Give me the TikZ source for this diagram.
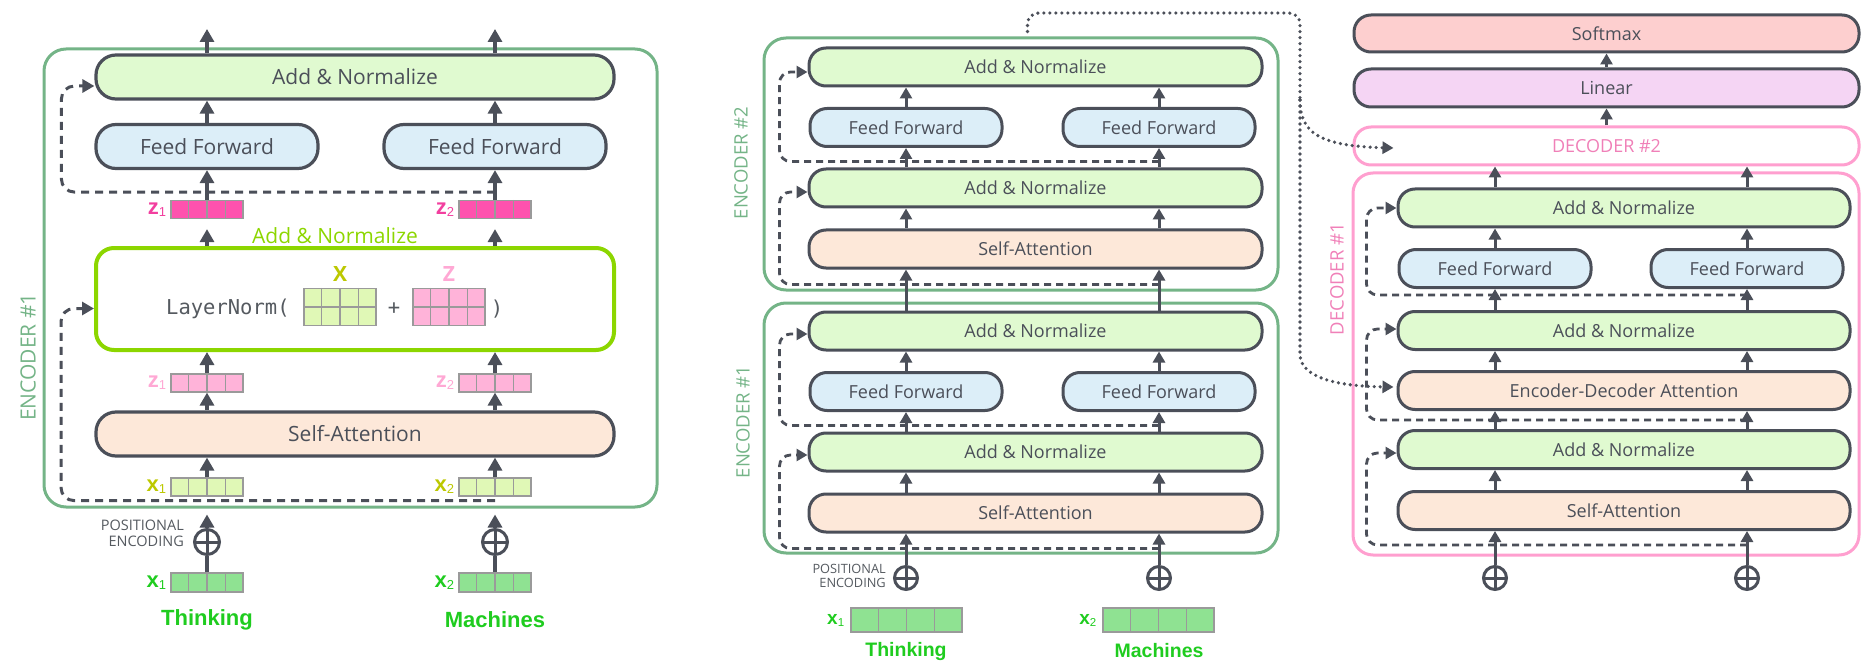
\documentclass[tikz,border=0pt]{standalone}
\usepackage{fontspec}
\setmainfont{Open Sans}
\newfontfamily\lnmono{DejaVu Sans Mono}
\newfontfamily\arialfont{Liberation Sans}
\usetikzlibrary{arrows.meta,calc}

\definecolor{dark}{HTML}{4B4F59}
\definecolor{angreen}{HTML}{E0FAD0}
\definecolor{ffblue}{HTML}{DCEEF8}
\definecolor{sapeach}{HTML}{FDE8D9}
\definecolor{softred}{HTML}{FDCFCF}
\definecolor{linpurple}{HTML}{F5D5F4}
\definecolor{encgreen}{HTML}{74B487}
\definecolor{decpink}{HTML}{FF9FCF}
\definecolor{decpinktext}{HTML}{F080B8}
\definecolor{lngreen}{HTML}{8CD600}
\definecolor{zdark}{HTML}{FF52AE}
\definecolor{zdarktext}{HTML}{F23F9F}
\definecolor{zlight}{HTML}{FFB3D9}
\definecolor{zlighttext}{HTML}{FFA8D4}
\definecolor{xlight}{HTML}{E0F8B6}
\definecolor{xlighttext}{HTML}{BCC800}
\definecolor{xgreen}{HTML}{8FE292}
\definecolor{wordgreen}{HTML}{1FCC1F}
\definecolor{cellgray}{HTML}{9A9A9A}
\definecolor{monogray}{HTML}{555A60}

\newcommand\fsBig{\fontsize{21}{24}\selectfont}
\newcommand\fsMid{\fontsize{18}{21}\selectfont}
\newcommand\vlabL[2]{{\arialfont\bfseries\fontsize{22}{22}\selectfont #1}{\arialfont\fontsize{13}{13}\selectfont\raisebox{-2pt}{#2}}}
\newcommand\vlabM[2]{{\arialfont\bfseries\fontsize{19}{19}\selectfont #1}{\arialfont\fontsize{11.5}{11.5}\selectfont\raisebox{-2pt}{#2}}}

% a row of four vector cells: name, x, y, total width, total height, fill
\newcommand\cellstrip[6]{%
  \node[cellnode, fill=#6, minimum width=#4pt, minimum height=#5pt] (#1) at (#2,#3) {};
  \foreach \k in {1,2,3}
    \draw[cellline] ($(#1.north west)!\k/4!(#1.north east)$) -- ($(#1.south west)!\k/4!(#1.south east)$);
}

\begin{document}
\begin{tikzpicture}[x=1pt,y=-1pt,
  blkL/.style={draw=dark, line width=3.2pt, rounded corners=20pt, minimum height=44pt,
    inner sep=0pt, text=dark, font=\fsBig},
  blkM/.style={draw=dark, line width=3pt, rounded corners=17pt, minimum height=38pt,
    inner sep=0pt, text=dark, font=\fsMid},
  encbox/.style={draw=encgreen, line width=3pt, rounded corners=22pt, inner sep=0pt},
  decbox/.style={draw=decpink, line width=3pt, rounded corners=20pt, inner sep=0pt},
  enclabel/.style={rotate=90, text=encgreen, inner sep=0pt},
  lnbox/.style={draw=lngreen, line width=4pt, rounded corners=18pt, fill=white,
    minimum width=518pt, minimum height=102pt, inner sep=0pt},
  cellnode/.style={draw=cellgray, line width=1.2pt, inner sep=0pt},
  cellline/.style={draw=cellgray, line width=1.2pt},
  arrL/.style={draw=dark, line width=3.2pt, -{Triangle[length=13pt,width=14pt]}},
  arrM/.style={draw=dark, line width=3pt, -{Triangle[length=11pt,width=12pt]}},
  plainL/.style={draw=dark, line width=3.2pt},
  residL/.style={draw=dark, line width=3pt, dash pattern=on 8pt off 6pt, rounded corners=13pt,
    -{Triangle[length=12pt,width=13pt]}},
  residM/.style={draw=dark, line width=2.8pt, dash pattern=on 7pt off 5pt, rounded corners=11pt,
    -{Triangle[length=11pt,width=12pt]}},
  dotline/.style={draw=dark, line width=3.6pt, dash pattern=on 0pt off 6pt, line cap=round,
    rounded corners=11pt},
  oplusL/.style={circle, draw=dark, line width=3pt, minimum size=25pt, inner sep=0pt,
    path picture={\draw[dark, line width=3pt]
      (path picture bounding box.north) -- (path picture bounding box.south)
      (path picture bounding box.west) -- (path picture bounding box.east);}},
  oplusM/.style={oplusL, minimum size=23pt},
  posenc/.style={align=right, anchor=east, text=monogray, inner sep=0pt},
  word/.style={text=wordgreen, inner sep=0pt},
]
\useasboundingbox (0,0) rectangle (1863,663);

% ================= left: one encoder layer in detail =================
\node[encbox, minimum width=613pt, minimum height=458pt] (encL) at (350.5,278) {};
\node[enclabel, font=\fsBig] (encLlab) at (28,357) {ENCODER \#1};

\node[blkL, fill=angreen, minimum width=518pt] (anL) at (355,77) {Add \& Normalize};
\node[blkL, fill=ffblue, minimum width=222pt] (ffL1) at (207,146.5) {Feed Forward};
\node[blkL, fill=ffblue, minimum width=222pt] (ffL2) at (495,146.5) {Feed Forward};

\cellstrip{zdL1}{207}{209.5}{72}{18}{zdark}
\cellstrip{zdL2}{495}{209.5}{72}{18}{zdark}
\node[anchor=east, text=zdarktext, inner sep=0pt] (zdL1lab) at ($(zdL1.west)+(-4,0)$) {\vlabL{z}{1}};
\node[anchor=east, text=zdarktext, inner sep=0pt] (zdL2lab) at ($(zdL2.west)+(-4,0)$) {\vlabL{z}{2}};

\node[lnbox] (lnL) at (355,299) {};
\node[font=\fsBig, text=lngreen, inner sep=0pt] (lnLlab) at (335,236) {Add \& Normalize};
\node[anchor=west, inner sep=0pt, text=monogray, font={\lnmono\fontsize{20.5}{22}\selectfont}] (lnfun) at (166,309) {LayerNorm(};
\node[cellnode, fill=xlight, minimum width=72pt, minimum height=37pt] (Xmat) at (340,307) {};
\foreach \k in {1,2,3}
  \draw[cellline] ($(Xmat.north west)!\k/4!(Xmat.north east)$) -- ($(Xmat.south west)!\k/4!(Xmat.south east)$);
\draw[cellline] (Xmat.west) -- (Xmat.east);
\node[cellnode, fill=zlight, minimum width=72pt, minimum height=37pt] (Zmat) at (449,307) {};
\foreach \k in {1,2,3}
  \draw[cellline] ($(Zmat.north west)!\k/4!(Zmat.north east)$) -- ($(Zmat.south west)!\k/4!(Zmat.south east)$);
\draw[cellline] (Zmat.west) -- (Zmat.east);
\node[text=xlighttext, font={\fsBig\bfseries}, inner sep=0pt] (Xlab) at (340,274) {X};
\node[text=zlighttext, font={\fsBig\bfseries}, inner sep=0pt] (Zlab) at (449,274) {Z};
\node[text=monogray, font={\lnmono\fontsize{20.5}{22}\selectfont}, inner sep=0pt] (plusop) at (394,309) {+};
\node[text=monogray, font={\lnmono\fontsize{20.5}{22}\selectfont}, inner sep=0pt] (closep) at (497,309) {)};

\cellstrip{zlL1}{207}{383}{72}{18}{zlight}
\cellstrip{zlL2}{495}{383}{72}{18}{zlight}
\node[anchor=east, text=zlighttext, inner sep=0pt] (zlL1lab) at ($(zlL1.west)+(-4,0)$) {\vlabL{z}{1}};
\node[anchor=east, text=zlighttext, inner sep=0pt] (zlL2lab) at ($(zlL2.west)+(-4,0)$) {\vlabL{z}{2}};

\node[blkL, fill=sapeach, minimum width=518pt] (saL) at (355,434) {Self-Attention};

\cellstrip{xlL1}{207}{487}{72}{18}{xlight}
\cellstrip{xlL2}{495}{487}{72}{18}{xlight}
\node[anchor=east, text=xlighttext, inner sep=0pt] (xlL1lab) at ($(xlL1.west)+(-4,0)$) {\vlabL{x}{1}};
\node[anchor=east, text=xlighttext, inner sep=0pt] (xlL2lab) at ($(xlL2.west)+(-4,0)$) {\vlabL{x}{2}};

\node[oplusL] (pL1) at (207,542) {};
\node[oplusL] (pL2) at (495,542) {};
\node[posenc, font={\fontsize{14.5}{16}\selectfont}] (posL) at (184,533) {POSITIONAL\\ENCODING};

\cellstrip{xgL1}{207}{582.5}{72}{19}{xgreen}
\cellstrip{xgL2}{495}{582.5}{72}{19}{xgreen}
\node[anchor=east, text=wordgreen, inner sep=0pt] (xgL1lab) at ($(xgL1.west)+(-4,0)$) {\vlabL{x}{1}};
\node[anchor=east, text=wordgreen, inner sep=0pt] (xgL2lab) at ($(xgL2.west)+(-4,0)$) {\vlabL{x}{2}};
\node[word, font={\arialfont\bfseries\fontsize{22}{24}\selectfont}] (thinkL) at (207,620) {Thinking};
\node[word, font={\arialfont\bfseries\fontsize{22}{24}\selectfont}] (machL) at (495,620) {Machines};

% residual connections
\draw[residL] ($(ffL2.south)+(0,22)$) -| ($(anL.west)+(-33,9)$) -- ($(anL.west)+(0,9)$);
\draw[residL] ($(xlL2.south)+(0,4)$) -| ($(lnL.west)+(-33,9.5)$) -- ($(lnL.west)+(0,9.5)$);

% data flow
\coordinate (outL1) at (207,29);
\coordinate (outL2) at (495,29);
\draw[arrL] (anL.north -| outL1) -- (outL1);
\draw[arrL] (anL.north -| outL2) -- (outL2);
\foreach \c in {1,2} {
  \draw[arrL] (ffL\c.north) -- (ffL\c.north |- anL.south);
  \draw[arrL] (zdL\c.north) -- (zdL\c.north |- ffL\c.south);
  \draw[arrL] (lnL.north -| zdL\c) -- ($(zdL\c.south)+(0,10)$);
  \draw[arrL] (zlL\c.north) -- (zlL\c.north |- lnL.south);
  \draw[arrL] (saL.north -| zlL\c) -- (zlL\c.south);
  \draw[arrL] (xlL\c.north) -- (xlL\c.north |- saL.south);
  \draw[arrL] (pL\c.north) -- ($(encL.south -| pL\c)+(0,6)$);
  \draw[plainL] (xgL\c.north) -- (pL\c.south);
}

% ================= middle: two stacked encoders =================
\node[encbox, minimum width=514pt, minimum height=252pt] (enc2) at (1021,164) {};
\node[encbox, minimum width=514pt, minimum height=250pt] (enc1) at (1021,428) {};
\node[enclabel, font={\fontsize{18.5}{20}\selectfont}] (enc2lab) at (741,163) {ENCODER \#2};
\node[enclabel, font={\fontsize{18.5}{20}\selectfont}] (enc1lab) at (743,422) {ENCODER \#1};

\node[blkM, fill=angreen, minimum width=453pt] (anE2a) at (1035.5,67) {Add \& Normalize};
\node[blkM, fill=ffblue, minimum width=192pt] (ffE2a) at (906,127.5) {Feed Forward};
\node[blkM, fill=ffblue, minimum width=192pt] (ffE2b) at (1159,127.5) {Feed Forward};
\node[blkM, fill=angreen, minimum width=453pt] (anE2b) at (1035.5,188) {Add \& Normalize};
\node[blkM, fill=sapeach, minimum width=453pt] (saE2) at (1035.5,249) {Self-Attention};

\node[blkM, fill=angreen, minimum width=453pt] (anE1a) at (1035.5,331) {Add \& Normalize};
\node[blkM, fill=ffblue, minimum width=192pt] (ffE1a) at (906,391.5) {Feed Forward};
\node[blkM, fill=ffblue, minimum width=192pt] (ffE1b) at (1159,391.5) {Feed Forward};
\node[blkM, fill=angreen, minimum width=453pt] (anE1b) at (1035.5,452) {Add \& Normalize};
\node[blkM, fill=sapeach, minimum width=453pt] (saE1) at (1035.5,513) {Self-Attention};

\node[oplusM] (pM1) at (906,578) {};
\node[oplusM] (pM2) at (1159,578) {};
\node[posenc, font={\fontsize{12.8}{14}\selectfont}] (posM) at (886,576) {POSITIONAL\\ENCODING};

\cellstrip{xgM1}{906.5}{620}{111}{24}{xgreen}
\cellstrip{xgM2}{1158.5}{620}{111}{24}{xgreen}
\node[anchor=east, text=wordgreen, inner sep=0pt] (xgM1lab) at ($(xgM1.west)+(-6,0)$) {\vlabM{x}{1}};
\node[anchor=east, text=wordgreen, inner sep=0pt] (xgM2lab) at ($(xgM2.west)+(-6,0)$) {\vlabM{x}{2}};
\node[word, font={\arialfont\bfseries\fontsize{19.5}{21}\selectfont}] (thinkM) at (906,651) {Thinking};
\node[word, font={\arialfont\bfseries\fontsize{19.5}{21}\selectfont}] (machM) at (1159,651) {Machines};

% residual connections
\draw[residM] ($(anE2b.north -| ffE2b)+(0,-6)$) -| ($(anE2a.west)+(-28,5)$) -- ($(anE2a.west)+(0,5)$);
\draw[residM] ($(saE2.south -| ffE2b)+(0,15)$) -| ($(anE2b.west)+(-28,4)$) -- ($(anE2b.west)+(0,4)$);
\draw[residM] ($(anE1b.north -| ffE1b)+(0,-6)$) -| ($(anE1a.west)+(-28,3)$) -- ($(anE1a.west)+(0,3)$);
\draw[residM] ($(saE1.south -| ffE1b)+(0,15)$) -| ($(anE1b.west)+(-28,3)$) -- ($(anE1b.west)+(0,3)$);

\foreach \s/\c in {a/1,b/2} {
  \draw[arrM] (ffE2\s.north) -- (anE2a.south -| ffE2\s);
  \draw[arrM] (anE2b.north -| ffE2\s) -- (ffE2\s.south);
  \draw[arrM] (saE2.north -| ffE2\s) -- (anE2b.south -| ffE2\s);
  \draw[arrM] (anE1a.north -| ffE1\s) -- (saE2.south -| ffE1\s);
  \draw[arrM] (ffE1\s.north) -- (anE1a.south -| ffE1\s);
  \draw[arrM] (anE1b.north -| ffE1\s) -- (ffE1\s.south);
  \draw[arrM] (saE1.north -| ffE1\s) -- (anE1b.south -| ffE1\s);
  \draw[arrM] (pM\c.north) -- (saE1.south -| pM\c);
}

% ================= right: decoder side =================
\node[blkM, fill=softred, minimum width=505pt, minimum height=37pt] (soft) at (1606.5,33.5) {Softmax};
\node[blkM, fill=linpurple, minimum width=505pt] (lin) at (1606.5,88) {Linear};
\node[decbox, fill=white, minimum width=505pt, minimum height=38pt, rounded corners=17pt,
      text=decpinktext, font=\fsMid] (dec2) at (1606.5,146) {DECODER \#2};
\node[decbox, minimum width=506pt, minimum height=382pt] (dec1) at (1606,364) {};
\node[rotate=90, text=decpinktext, inner sep=0pt, font={\fontsize{18.5}{20}\selectfont}] (dec1lab) at (1337,279) {DECODER \#1};

\node[blkM, fill=angreen, minimum width=452pt] (anD1) at (1624,208) {Add \& Normalize};
\node[blkM, fill=ffblue, minimum width=192pt] (ffDa) at (1495,268.5) {Feed Forward};
\node[blkM, fill=ffblue, minimum width=192pt] (ffDb) at (1747,268.5) {Feed Forward};
\node[blkM, fill=angreen, minimum width=452pt] (anD2) at (1624,330.5) {Add \& Normalize};
\node[blkM, fill=sapeach, minimum width=452pt] (eda) at (1624,390.5) {Encoder-Decoder Attention};
\node[blkM, fill=angreen, minimum width=452pt] (anD3) at (1624,449.5) {Add \& Normalize};
\node[blkM, fill=sapeach, minimum width=452pt] (saD) at (1624,510.5) {Self-Attention};

\node[oplusM] (pD1) at (1495,578) {};
\node[oplusM] (pD2) at (1747,578) {};

% residual connections
\draw[residM] ($(anD2.north -| ffDb)+(0,-15)$) -| ($(anD1.west)+(-30,0)$) -- (anD1.west);
\draw[residM] ($(eda.south -| ffDb)+(0,9)$) -| ($(anD2.west)+(-30,-1.5)$) -- ($(anD2.west)+(0,-1.5)$);
\draw[residM] ($(saD.south -| ffDb)+(0,14)$) -| ($(anD3.west)+(-30,3.5)$) -- ($(anD3.west)+(0,3.5)$);

\draw[arrM] (lin.north) -- (soft.south);
\draw[arrM] (dec2.north) -- (lin.south);
\foreach \s/\c in {a/1,b/2} {
  \draw[arrM] (anD1.north -| ffD\s) -- (dec2.south -| ffD\s);
  \draw[arrM] (ffD\s.north) -- (anD1.south -| ffD\s);
  \draw[arrM] (anD2.north -| ffD\s) -- (ffD\s.south);
  \draw[arrM] (eda.north -| ffD\s) -- (anD2.south -| ffD\s);
  \draw[arrM] (anD3.north -| ffD\s) -- (eda.south -| ffD\s);
  \draw[arrM] (saD.north -| ffD\s) -- (anD3.south -| ffD\s);
  \draw[arrM] (pD\c.north) -- (saD.south -| pD\c);
}

% encoder output fed to the decoders
\coordinate (tapout) at ($(enc2.north west)+(265,-5)$);
\coordinate (tapturn) at (1300,13);
\coordinate (tapsplit) at (1300,100);
\coordinate (dec2in) at ($(dec2.west)+(41,2)$);
\coordinate (edain) at ($(eda.west)+(-3,-3.5)$);
\draw[dotline] (tapout) |- (tapturn) -- (tapsplit);
\draw[dotline, -{Triangle[length=11pt,width=12pt]}] (tapsplit) .. controls (1300,132) and (1318,146) .. (dec2in);
\draw[dotline, -{Triangle[length=11pt,width=12pt]}] (tapsplit) -- (1300,343) .. controls (1300,372) and (1322,386) .. (edain);
\end{tikzpicture}
\end{document}
